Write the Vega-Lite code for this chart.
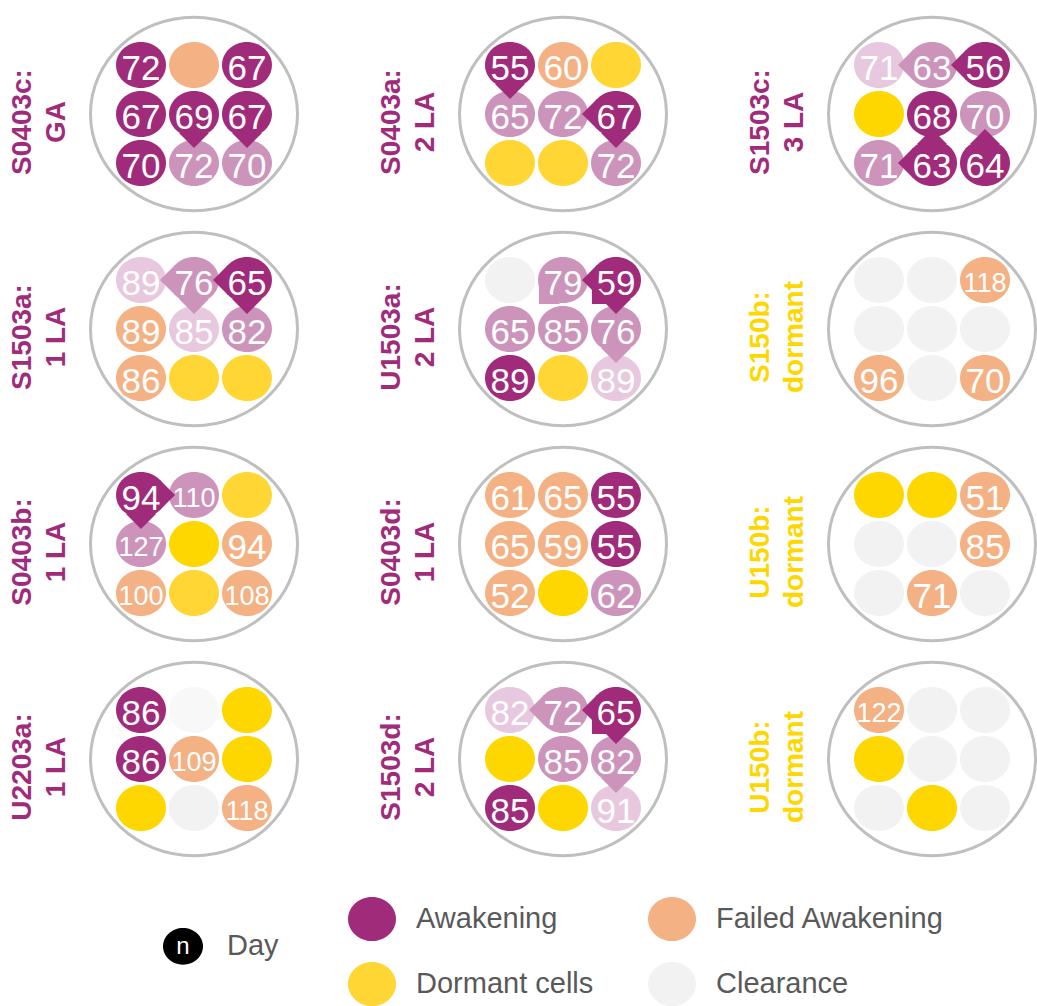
{
  "$schema": "https://vega.github.io/schema/vega-lite/v6.json",
  "padding": 0,
  "background": "white",
  "spacing": 0,
  "config": {
    "view": {"stroke": null},
    "font": "Liberation Sans",
    "header": {"labels": false, "title": null, "labelPadding": 0, "titlePadding": 0, "labelFontSize": 0},
    "headerFacet": {"labels": false, "title": null, "labelPadding": 0, "titlePadding": 0, "labelFontSize": 0}
  },
  "vconcat": [
    {
      "data": {"values": [
        {"kind":"panel","p":1,"l1":"S0403c:","l2":"GA","lt":"Awakening"},
        {"kind":"panel","p":2,"l1":"S0403a:","l2":"2 LA","lt":"Awakening"},
        {"kind":"panel","p":3,"l1":"S1503c:","l2":"3 LA","lt":"Awakening"},
        {"kind":"panel","p":4,"l1":"S1503a:","l2":"1 LA","lt":"Awakening"},
        {"kind":"panel","p":5,"l1":"U1503a:","l2":"2 LA","lt":"Awakening"},
        {"kind":"panel","p":6,"l1":"S150b:","l2":"dormant","lt":"Dormant cells 2"},
        {"kind":"panel","p":7,"l1":"S0403b:","l2":"1 LA","lt":"Awakening"},
        {"kind":"panel","p":8,"l1":"S0403d:","l2":"1 LA","lt":"Awakening"},
        {"kind":"panel","p":9,"l1":"U150b:","l2":"dormant","lt":"Dormant cells 2"},
        {"kind":"panel","p":10,"l1":"U2203a:","l2":"1 LA","lt":"Awakening"},
        {"kind":"panel","p":11,"l1":"S1503d:","l2":"2 LA","lt":"Awakening"},
        {"kind":"panel","p":12,"l1":"U150b:","l2":"dormant","lt":"Dormant cells 2"},

        {"kind":"cell","p":1,"r":0,"c":0,"s":"Awakening","d":72},
        {"kind":"cell","p":1,"r":0,"c":1,"s":"Failed Awakening"},
        {"kind":"cell","p":1,"r":0,"c":2,"s":"Awakening","d":67},
        {"kind":"cell","p":1,"r":1,"c":0,"s":"Awakening","d":67},
        {"kind":"cell","p":1,"r":1,"c":1,"s":"Awakening","d":69},
        {"kind":"cell","p":1,"r":1,"c":2,"s":"Awakening","d":67},
        {"kind":"cell","p":1,"r":2,"c":0,"s":"Awakening","d":70},
        {"kind":"cell","p":1,"r":2,"c":1,"s":"Awakening 2","d":72},
        {"kind":"cell","p":1,"r":2,"c":2,"s":"Awakening 2","d":70},

        {"kind":"cell","p":2,"r":0,"c":0,"s":"Awakening","d":55},
        {"kind":"cell","p":2,"r":0,"c":1,"s":"Failed Awakening","d":60},
        {"kind":"cell","p":2,"r":0,"c":2,"s":"Dormant cells"},
        {"kind":"cell","p":2,"r":1,"c":0,"s":"Awakening 2","d":65},
        {"kind":"cell","p":2,"r":1,"c":1,"s":"Awakening 2","d":72},
        {"kind":"cell","p":2,"r":1,"c":2,"s":"Awakening","d":67},
        {"kind":"cell","p":2,"r":2,"c":0,"s":"Dormant cells"},
        {"kind":"cell","p":2,"r":2,"c":1,"s":"Dormant cells"},
        {"kind":"cell","p":2,"r":2,"c":2,"s":"Awakening 2","d":72},

        {"kind":"cell","p":3,"r":0,"c":0,"s":"Awakening 3","d":71},
        {"kind":"cell","p":3,"r":0,"c":1,"s":"Awakening 2","d":63},
        {"kind":"cell","p":3,"r":0,"c":2,"s":"Awakening","d":56},
        {"kind":"cell","p":3,"r":1,"c":0,"s":"Dormant cells 2"},
        {"kind":"cell","p":3,"r":1,"c":1,"s":"Awakening","d":68},
        {"kind":"cell","p":3,"r":1,"c":2,"s":"Awakening 2","d":70},
        {"kind":"cell","p":3,"r":2,"c":0,"s":"Awakening 2","d":71},
        {"kind":"cell","p":3,"r":2,"c":1,"s":"Awakening","d":63},
        {"kind":"cell","p":3,"r":2,"c":2,"s":"Awakening","d":64},

        {"kind":"cell","p":4,"r":0,"c":0,"s":"Awakening 3","d":89},
        {"kind":"cell","p":4,"r":0,"c":1,"s":"Awakening 2","d":76},
        {"kind":"cell","p":4,"r":0,"c":2,"s":"Awakening","d":65},
        {"kind":"cell","p":4,"r":1,"c":0,"s":"Failed Awakening","d":89},
        {"kind":"cell","p":4,"r":1,"c":1,"s":"Awakening 3","d":85},
        {"kind":"cell","p":4,"r":1,"c":2,"s":"Awakening 2","d":82},
        {"kind":"cell","p":4,"r":2,"c":0,"s":"Failed Awakening","d":86},
        {"kind":"cell","p":4,"r":2,"c":1,"s":"Dormant cells"},
        {"kind":"cell","p":4,"r":2,"c":2,"s":"Dormant cells"},

        {"kind":"cell","p":5,"r":0,"c":0,"s":"Clearance"},
        {"kind":"cell","p":5,"r":0,"c":1,"s":"Awakening 2","d":79},
        {"kind":"cell","p":5,"r":0,"c":2,"s":"Awakening","d":59},
        {"kind":"cell","p":5,"r":1,"c":0,"s":"Awakening 2","d":65},
        {"kind":"cell","p":5,"r":1,"c":1,"s":"Awakening 2","d":85},
        {"kind":"cell","p":5,"r":1,"c":2,"s":"Awakening 2","d":76},
        {"kind":"cell","p":5,"r":2,"c":0,"s":"Awakening","d":89},
        {"kind":"cell","p":5,"r":2,"c":1,"s":"Dormant cells"},
        {"kind":"cell","p":5,"r":2,"c":2,"s":"Awakening 3","d":89},

        {"kind":"cell","p":6,"r":0,"c":0,"s":"Clearance"},
        {"kind":"cell","p":6,"r":0,"c":1,"s":"Clearance"},
        {"kind":"cell","p":6,"r":0,"c":2,"s":"Failed Awakening","d":118},
        {"kind":"cell","p":6,"r":1,"c":0,"s":"Clearance"},
        {"kind":"cell","p":6,"r":1,"c":1,"s":"Clearance"},
        {"kind":"cell","p":6,"r":1,"c":2,"s":"Clearance"},
        {"kind":"cell","p":6,"r":2,"c":0,"s":"Failed Awakening","d":96},
        {"kind":"cell","p":6,"r":2,"c":1,"s":"Clearance"},
        {"kind":"cell","p":6,"r":2,"c":2,"s":"Failed Awakening","d":70},

        {"kind":"cell","p":7,"r":0,"c":0,"s":"Awakening","d":94},
        {"kind":"cell","p":7,"r":0,"c":1,"s":"Awakening 2","d":110},
        {"kind":"cell","p":7,"r":0,"c":2,"s":"Dormant cells"},
        {"kind":"cell","p":7,"r":1,"c":0,"s":"Awakening 2","d":127},
        {"kind":"cell","p":7,"r":1,"c":1,"s":"Dormant cells 2"},
        {"kind":"cell","p":7,"r":1,"c":2,"s":"Failed Awakening","d":94},
        {"kind":"cell","p":7,"r":2,"c":0,"s":"Failed Awakening","d":100},
        {"kind":"cell","p":7,"r":2,"c":1,"s":"Dormant cells"},
        {"kind":"cell","p":7,"r":2,"c":2,"s":"Failed Awakening","d":108},

        {"kind":"cell","p":8,"r":0,"c":0,"s":"Failed Awakening","d":61},
        {"kind":"cell","p":8,"r":0,"c":1,"s":"Failed Awakening","d":65},
        {"kind":"cell","p":8,"r":0,"c":2,"s":"Awakening","d":55},
        {"kind":"cell","p":8,"r":1,"c":0,"s":"Failed Awakening","d":65},
        {"kind":"cell","p":8,"r":1,"c":1,"s":"Failed Awakening","d":59},
        {"kind":"cell","p":8,"r":1,"c":2,"s":"Awakening","d":55},
        {"kind":"cell","p":8,"r":2,"c":0,"s":"Failed Awakening","d":52},
        {"kind":"cell","p":8,"r":2,"c":1,"s":"Dormant cells 2"},
        {"kind":"cell","p":8,"r":2,"c":2,"s":"Awakening 2","d":62},

        {"kind":"cell","p":9,"r":0,"c":0,"s":"Dormant cells 2"},
        {"kind":"cell","p":9,"r":0,"c":1,"s":"Dormant cells 2"},
        {"kind":"cell","p":9,"r":0,"c":2,"s":"Failed Awakening","d":51},
        {"kind":"cell","p":9,"r":1,"c":0,"s":"Clearance"},
        {"kind":"cell","p":9,"r":1,"c":1,"s":"Clearance"},
        {"kind":"cell","p":9,"r":1,"c":2,"s":"Failed Awakening","d":85},
        {"kind":"cell","p":9,"r":2,"c":0,"s":"Clearance"},
        {"kind":"cell","p":9,"r":2,"c":1,"s":"Failed Awakening","d":71},
        {"kind":"cell","p":9,"r":2,"c":2,"s":"Clearance"},

        {"kind":"cell","p":10,"r":0,"c":0,"s":"Awakening","d":86},
        {"kind":"cell","p":10,"r":0,"c":1,"s":"Clearance 2"},
        {"kind":"cell","p":10,"r":0,"c":2,"s":"Dormant cells 2"},
        {"kind":"cell","p":10,"r":1,"c":0,"s":"Awakening","d":86},
        {"kind":"cell","p":10,"r":1,"c":1,"s":"Failed Awakening","d":109},
        {"kind":"cell","p":10,"r":1,"c":2,"s":"Dormant cells 2"},
        {"kind":"cell","p":10,"r":2,"c":0,"s":"Dormant cells 2"},
        {"kind":"cell","p":10,"r":2,"c":1,"s":"Clearance"},
        {"kind":"cell","p":10,"r":2,"c":2,"s":"Failed Awakening","d":118},

        {"kind":"cell","p":11,"r":0,"c":0,"s":"Awakening 3","d":82},
        {"kind":"cell","p":11,"r":0,"c":1,"s":"Awakening 2","d":72},
        {"kind":"cell","p":11,"r":0,"c":2,"s":"Awakening","d":65},
        {"kind":"cell","p":11,"r":1,"c":0,"s":"Dormant cells 2"},
        {"kind":"cell","p":11,"r":1,"c":1,"s":"Awakening 2","d":85},
        {"kind":"cell","p":11,"r":1,"c":2,"s":"Awakening 2","d":82},
        {"kind":"cell","p":11,"r":2,"c":0,"s":"Awakening","d":85},
        {"kind":"cell","p":11,"r":2,"c":1,"s":"Dormant cells 2"},
        {"kind":"cell","p":11,"r":2,"c":2,"s":"Awakening 3","d":91},

        {"kind":"cell","p":12,"r":0,"c":0,"s":"Failed Awakening","d":122},
        {"kind":"cell","p":12,"r":0,"c":1,"s":"Clearance"},
        {"kind":"cell","p":12,"r":0,"c":2,"s":"Clearance"},
        {"kind":"cell","p":12,"r":1,"c":0,"s":"Dormant cells 2"},
        {"kind":"cell","p":12,"r":1,"c":1,"s":"Clearance"},
        {"kind":"cell","p":12,"r":1,"c":2,"s":"Clearance"},
        {"kind":"cell","p":12,"r":2,"c":0,"s":"Clearance"},
        {"kind":"cell","p":12,"r":2,"c":1,"s":"Dormant cells 2"},
        {"kind":"cell","p":12,"r":2,"c":2,"s":"Clearance"},

        {"kind":"arrow","p":1,"r":1,"c":1,"s":"Awakening","dir":"down"},
        {"kind":"arrow","p":1,"r":1,"c":2,"s":"Awakening","dir":"down"},
        {"kind":"arrow","p":2,"r":0,"c":0,"s":"Awakening","dir":"down"},
        {"kind":"arrow","p":2,"r":1,"c":2,"s":"Awakening","dir":"left"},
        {"kind":"arrow","p":2,"r":1,"c":2,"s":"Awakening","dir":"down"},
        {"kind":"arrow","p":3,"r":0,"c":1,"s":"Awakening 2","dir":"left"},
        {"kind":"arrow","p":3,"r":0,"c":2,"s":"Awakening","dir":"left"},
        {"kind":"arrow","p":3,"r":2,"c":1,"s":"Awakening","dir":"up"},
        {"kind":"arrow","p":3,"r":2,"c":2,"s":"Awakening","dir":"up"},
        {"kind":"arrow","p":3,"r":2,"c":1,"s":"Awakening","dir":"left"},
        {"kind":"arrow","p":4,"r":0,"c":1,"s":"Awakening 2","dir":"left"},
        {"kind":"arrow","p":4,"r":0,"c":2,"s":"Awakening","dir":"left"},
        {"kind":"arrow","p":4,"r":0,"c":1,"s":"Awakening 2","dir":"down"},
        {"kind":"arrow","p":4,"r":0,"c":2,"s":"Awakening","dir":"down"},
        {"kind":"arrow","p":5,"r":0,"c":1,"s":"Awakening 2","dir":"downleft"},
        {"kind":"arrow","p":5,"r":0,"c":2,"s":"Awakening","dir":"left"},
        {"kind":"arrow","p":5,"r":0,"c":2,"s":"Awakening","dir":"downleft"},
        {"kind":"arrow","p":5,"r":0,"c":2,"s":"Awakening","dir":"down"},
        {"kind":"arrow","p":5,"r":1,"c":2,"s":"Awakening 2","dir":"down"},
        {"kind":"arrow","p":7,"r":0,"c":0,"s":"Awakening","dir":"right"},
        {"kind":"arrow","p":7,"r":0,"c":0,"s":"Awakening","dir":"down"},
        {"kind":"arrow","p":11,"r":0,"c":1,"s":"Awakening 2","dir":"left"},
        {"kind":"arrow","p":11,"r":0,"c":2,"s":"Awakening","dir":"left"},
        {"kind":"arrow","p":11,"r":0,"c":2,"s":"Awakening","dir":"downleft"},
        {"kind":"arrow","p":11,"r":0,"c":2,"s":"Awakening","dir":"down"},
        {"kind":"arrow","p":11,"r":1,"c":2,"s":"Awakening 2","dir":"down"}
      ]},
      "facet": {"field": "p", "type": "ordinal", "header": {"labels": false, "title": null, "labelPadding": 0, "labelFontSize": 0, "labelExpr": "''"}},
      "columns": 3,
      "bounds": "flush",
      "spacing": {"row": 0, "column": 70},
      "spec": {
        "width": 299,
        "height": 215,
        "layer": [
          {
            "transform": [{"filter": "datum.kind === 'panel'"}],
            "mark": {"type": "point", "shape": "M-1,0C-1,-0.516,-0.552,-0.935,0,-0.935C0.552,-0.935,1,-0.516,1,0C1,0.516,0.552,0.935,0,0.935C-0.552,0.935,-1,0.516,-1,0Z", "size": 42849, "filled": false, "stroke": "#bfbfbf", "strokeWidth": 3, "opacity": 1},
            "encoding": {
              "x": {"datum": 1, "type": "quantitative", "scale": {"domain": [-2.6604, 2.9811], "nice": false, "zero": false}, "axis": null},
              "y": {"datum": 1, "type": "quantitative", "scale": {"domain": [-1.3265, 3.0612], "nice": false, "zero": false, "reverse": true}, "axis": null}
            }
          },
          {
            "transform": [{"filter": "datum.kind === 'cell'"}],
            "mark": {"type": "point", "shape": "M-1,0C-1,-0.508,-0.552,-0.92,0,-0.92C0.552,-0.92,1,-0.508,1,0C1,0.508,0.552,0.92,0,0.92C-0.552,0.92,-1,0.508,-1,0Z", "size": 2500, "filled": true, "opacity": 1, "strokeWidth": 0},
            "encoding": {
              "x": {"field": "c", "type": "quantitative", "scale": {"domain": [-2.6604, 2.9811], "nice": false, "zero": false}, "axis": null},
              "y": {"field": "r", "type": "quantitative", "scale": {"domain": [-1.3265, 3.0612], "nice": false, "zero": false, "reverse": true}, "axis": null},
              "color": {"field": "s", "type": "nominal", "legend": null, "scale": {"domain": ["Awakening","Awakening 2","Awakening 3","Failed Awakening","Dormant cells","Dormant cells 2","Clearance","Clearance 2","Day"], "range": ["#a02b7b","#cc93bb","#e8c8de","#f4b183","#ffd633","#ffd700","#f2f2f2","#f8f8f8","#000000"]}}
            }
          },
          {
            "transform": [{"filter": "datum.kind === 'cell' && isValid(datum.d)"}],
            "mark": {"type": "text", "font": "Liberation Sans", "align": "center", "baseline": "middle", "dy": 4, "color": "#ffffff"},
            "encoding": {
              "x": {"field": "c", "type": "quantitative", "scale": {"domain": [-2.6604, 2.9811], "nice": false, "zero": false}, "axis": null},
              "y": {"field": "r", "type": "quantitative", "scale": {"domain": [-1.3265, 3.0612], "nice": false, "zero": false, "reverse": true}, "axis": null},
              "text": {"field": "d", "type": "nominal"},
              "size": {"condition": {"test": "datum.d >= 100", "value": 27}, "value": 35}
            }
          },
          {
            "transform": [{"filter": "datum.kind === 'arrow'"}],
            "mark": {"type": "point", "shape": "M-1,1.267L1,1.267L0,2.267Z", "size": 900, "filled": true, "opacity": 1, "strokeWidth": 0},
            "encoding": {
              "x": {"field": "c", "type": "quantitative", "scale": {"domain": [-2.6604, 2.9811], "nice": false, "zero": false}, "axis": null},
              "y": {"field": "r", "type": "quantitative", "scale": {"domain": [-1.3265, 3.0612], "nice": false, "zero": false, "reverse": true}, "axis": null},
              "color": {"field": "s", "type": "nominal", "legend": null},
              "angle": {"field": "dir", "type": "nominal", "legend": null, "scale": {"type": "point", "domain": ["down","downleft","left","upleft","up","upright","right","downright"], "range": [0, 315], "padding": 0}}
            }
          },
          {
            "transform": [{"filter": "datum.kind === 'panel'"}],
            "mark": {"type": "text", "angle": 270, "font": "Liberation Sans", "fontWeight": "bold", "fontSize": 28, "align": "center", "baseline": "middle"},
            "encoding": {
              "x": {"datum": -2.234, "type": "quantitative", "scale": {"domain": [-2.6604, 2.9811], "nice": false, "zero": false}, "axis": null},
              "y": {"datum": 1.163, "type": "quantitative", "scale": {"domain": [-1.3265, 3.0612], "nice": false, "zero": false, "reverse": true}, "axis": null},
              "text": {"field": "l1", "type": "nominal"},
              "color": {"field": "lt", "type": "nominal", "legend": null}
            }
          },
          {
            "transform": [{"filter": "datum.kind === 'panel'"}],
            "mark": {"type": "text", "angle": 270, "font": "Liberation Sans", "fontWeight": "bold", "fontSize": 28, "align": "center", "baseline": "middle"},
            "encoding": {
              "x": {"datum": -1.592, "type": "quantitative", "scale": {"domain": [-2.6604, 2.9811], "nice": false, "zero": false}, "axis": null},
              "y": {"datum": 1.163, "type": "quantitative", "scale": {"domain": [-1.3265, 3.0612], "nice": false, "zero": false, "reverse": true}, "axis": null},
              "text": {"field": "l2", "type": "nominal"},
              "color": {"field": "lt", "type": "nominal", "legend": null}
            }
          }
        ]
      }
    },
    {
      "width": 1037,
      "height": 146,
      "data": {"values": [
        {"item": "Day", "s": "Day", "col": 0, "row": 0.42},
        {"item": "Awakening", "s": "Awakening", "col": 1, "row": 0},
        {"item": "Dormant cells", "s": "Dormant cells", "col": 1, "row": 1},
        {"item": "Failed Awakening", "s": "Failed Awakening", "col": 2, "row": 0},
        {"item": "Clearance", "s": "Clearance", "col": 2, "row": 1}
      ]},
      "layer": [
        {
          "mark": {"type": "point", "shape": "M-1,0C-1,-0.508,-0.552,-0.92,0,-0.92C0.552,-0.92,1,-0.508,1,0C1,0.508,0.552,0.92,0,0.92C-0.552,0.92,-1,0.508,-1,0Z", "filled": true, "opacity": 1, "strokeWidth": 0},
          "encoding": {
            "x": {"field": "col", "type": "quantitative", "scale": {"domain": [0, 1, 2], "range": [183, 372, 672], "nice": false, "zero": false}, "axis": null},
            "y": {"field": "row", "type": "quantitative", "scale": {"domain": [0, 1], "range": [57, 122], "nice": false, "zero": false}, "axis": null},
            "color": {"field": "s", "type": "nominal", "legend": null, "scale": {"domain": ["Awakening","Awakening 2","Awakening 3","Failed Awakening","Dormant cells","Dormant cells 2","Clearance","Clearance 2","Day"], "range": ["#a02b7b","#cc93bb","#e8c8de","#f4b183","#ffd633","#ffd700","#f2f2f2","#f8f8f8","#000000"]}},
            "size": {"condition": {"test": "datum.s === 'Day'", "value": 1600}, "value": 2304}
          }
        },
        {
          "transform": [{"filter": "datum.s === 'Day'"}],
          "mark": {"type": "text", "text": "n", "color": "#ffffff", "fontSize": 24, "font": "Liberation Sans", "align": "center", "baseline": "middle", "dy": 1},
          "encoding": {
            "x": {"field": "col", "type": "quantitative", "scale": {"domain": [0, 1, 2], "range": [183, 372, 672], "nice": false, "zero": false}, "axis": null},
            "y": {"field": "row", "type": "quantitative", "scale": {"domain": [0, 1], "range": [57, 122], "nice": false, "zero": false}, "axis": null}
          }
        },
        {
          "mark": {"type": "text", "align": "left", "baseline": "middle", "dx": 44, "fontSize": 29, "font": "Liberation Sans", "color": "#595959"},
          "encoding": {
            "x": {"field": "col", "type": "quantitative", "scale": {"domain": [0, 1, 2], "range": [183, 372, 672], "nice": false, "zero": false}, "axis": null},
            "y": {"field": "row", "type": "quantitative", "scale": {"domain": [0, 1], "range": [57, 122], "nice": false, "zero": false}, "axis": null},
            "text": {"field": "item", "type": "nominal"}
          }
        }
      ]
    }
  ]
}
